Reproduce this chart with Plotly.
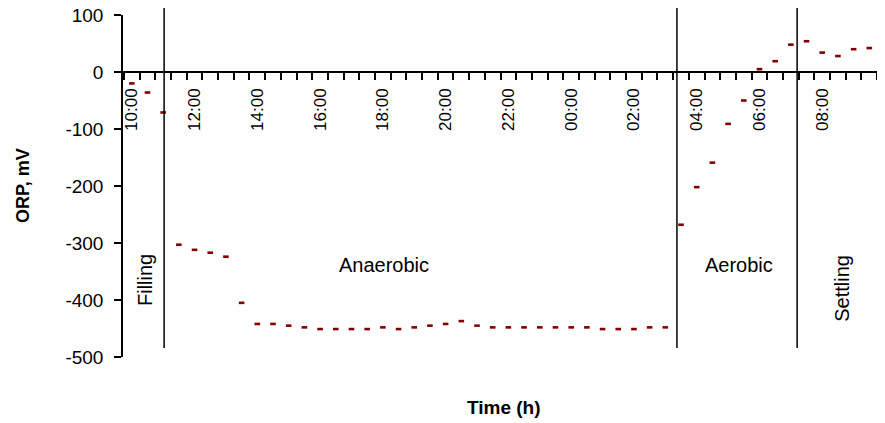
import plotly.graph_objects as go

# ---- data ----
time_labels = [
    "10:00", "10:30", "11:00", "11:30", "12:00", "12:30", "13:00", "13:30",
    "14:00", "14:30", "15:00", "15:30", "16:00", "16:30", "17:00", "17:30",
    "18:00", "18:30", "19:00", "19:30", "20:00", "20:30", "21:00", "21:30",
    "22:00", "22:30", "23:00", "23:30", "00:00", "00:30", "01:00", "01:30",
    "02:00", "02:30", "03:00", "03:30", "04:00", "04:30", "05:00", "05:30",
    "06:00", "06:30", "07:00", "07:30", "08:00", "08:30", "09:00", "09:30",
]
orp_filling = [-20, -36, -71]
orp_anaerobic = [-303, -312, -317, -324, -405, -442, -442, -445, -448, -451,
                 -451, -451, -451, -448, -451, -448, -445, -442, -437, -445,
                 -448, -448, -448, -448, -448, -448, -448, -451, -451, -451,
                 -448, -448]
orp_aerobic_settling = [-268, -202, -159, -91, -50, 5, 19, 48, 54, 34, 28, 40, 42]
orp = orp_filling + orp_anaerobic + orp_aerobic_settling

axis_tick_labels = ["10:00", "12:00", "14:00", "16:00", "18:00", "20:00", "22:00",
                    "00:00", "02:00", "04:00", "06:00", "08:00", "10:00"]
y_tick_values = [100, 0, -100, -200, -300, -400, -500]
y_tick_labels = ["100", "0", "-100", "-200", "-300", "-400", "-500"]
phase_names = ["Filling", "Anaerobic", "Aerobic", "Settling"]
phase_boundaries = [11.03, 27.37, 31.20]  # hours since 00:00 of day 1


def to_hours(label, start=10):
    h, m = label.split(":")
    v = int(h) + int(m) / 60.0
    if v < start:
        v += 24
    return v


x_hours = [to_hours(t) for t in time_labels]
tick_hours = [to_hours(t) for t in axis_tick_labels]
tick_hours[-1] = 34.0
minor_ticks = [h - 0.25 for h in x_hours] + [x_hours[-1] + 0.25]

FONT = "Liberation Sans, Arial, sans-serif"
XR = [9.72, 34.0]
YR = [-500, 100]
ypos = (0 - YR[0]) / (YR[1] - YR[0])

fig = go.Figure()
fig.add_trace(go.Scatter(
    x=x_hours, y=orp, mode="markers",
    marker=dict(symbol="line-ew", size=4, color="#800000",
                line=dict(color="#800000", width=2.6)),
    showlegend=False,
))
# invisible trace for the label axis
fig.add_trace(go.Scatter(x=[x_hours[0]], y=[orp[0]], xaxis="x2", mode="markers",
                         marker=dict(opacity=0), showlegend=False, hoverinfo="skip"))

for b in phase_boundaries:
    fig.add_shape(type="line", xref="x", yref="paper", x0=b, x1=b,
                  y0=0.026, y1=1.026, line=dict(color="black", width=1.5))

# page body has an 8px margin: size and margins compensate for it
fig.update_layout(
    width=877, height=415,
    margin=dict(l=115, r=0, t=7, b=66),
    paper_bgcolor="white", plot_bgcolor="white",
    font=dict(family=FONT, size=18, color="black"),
    xaxis=dict(
        range=XR, anchor="free", position=ypos,
        showline=True, linecolor="black", linewidth=1.5,
        showgrid=False, zeroline=False,
        tickmode="array", tickvals=minor_ticks, showticklabels=False,
        ticks="outside", ticklen=7, tickwidth=1.5, tickcolor="black",
        automargin=False,
    ),
    xaxis2=dict(
        range=XR, matches="x", overlaying="x", anchor="free", position=ypos,
        showline=False, showgrid=False, zeroline=False,
        tickmode="array", tickvals=tick_hours, ticktext=axis_tick_labels,
        tickangle=-90, ticks="", ticklabelstandoff=12,
        ticklabeloverflow="allow",
        tickfont=dict(family=FONT, size=17, color="black"),
        automargin=False, side="bottom",
    ),
    yaxis=dict(
        range=YR, anchor="x", showline=True, linecolor="black", linewidth=1.5,
        showgrid=False, zeroline=False,
        tickmode="array", tickvals=y_tick_values, ticktext=y_tick_labels,
        ticks="outside", ticklen=7, tickwidth=1.5, tickcolor="black",
        ticklabelstandoff=7, ticklabeloverflow="allow",
        tickfont=dict(family=FONT, size=19, color="black"),
        automargin=False,
    ),
)

annotations = [
    dict(text="<b>ORP, mV</b>", xref="paper", yref="paper", x=(23 - 123) / 762,
         y=0.5, textangle=-90, showarrow=False, font=dict(size=18),
         xanchor="center", yanchor="middle"),
    dict(text="<b>Time (h)</b>", xref="paper", yref="paper", x=0.5,
         y=(357 - 407) / 342, showarrow=False, font=dict(size=19),
         xanchor="center", yanchor="middle"),
    dict(text=phase_names[0], x=10.42, y=-365, textangle=-90, showarrow=False,
         font=dict(size=20)),
    dict(text=phase_names[1], x=18.04, y=-339, showarrow=False, font=dict(size=20)),
    dict(text=phase_names[2], x=29.35, y=-339, showarrow=False, font=dict(size=20)),
    dict(text=phase_names[3], x=32.62, y=-379, textangle=-90, showarrow=False,
         font=dict(size=20)),
]
fig.update_layout(annotations=annotations)

fig.write_html("out.html")
